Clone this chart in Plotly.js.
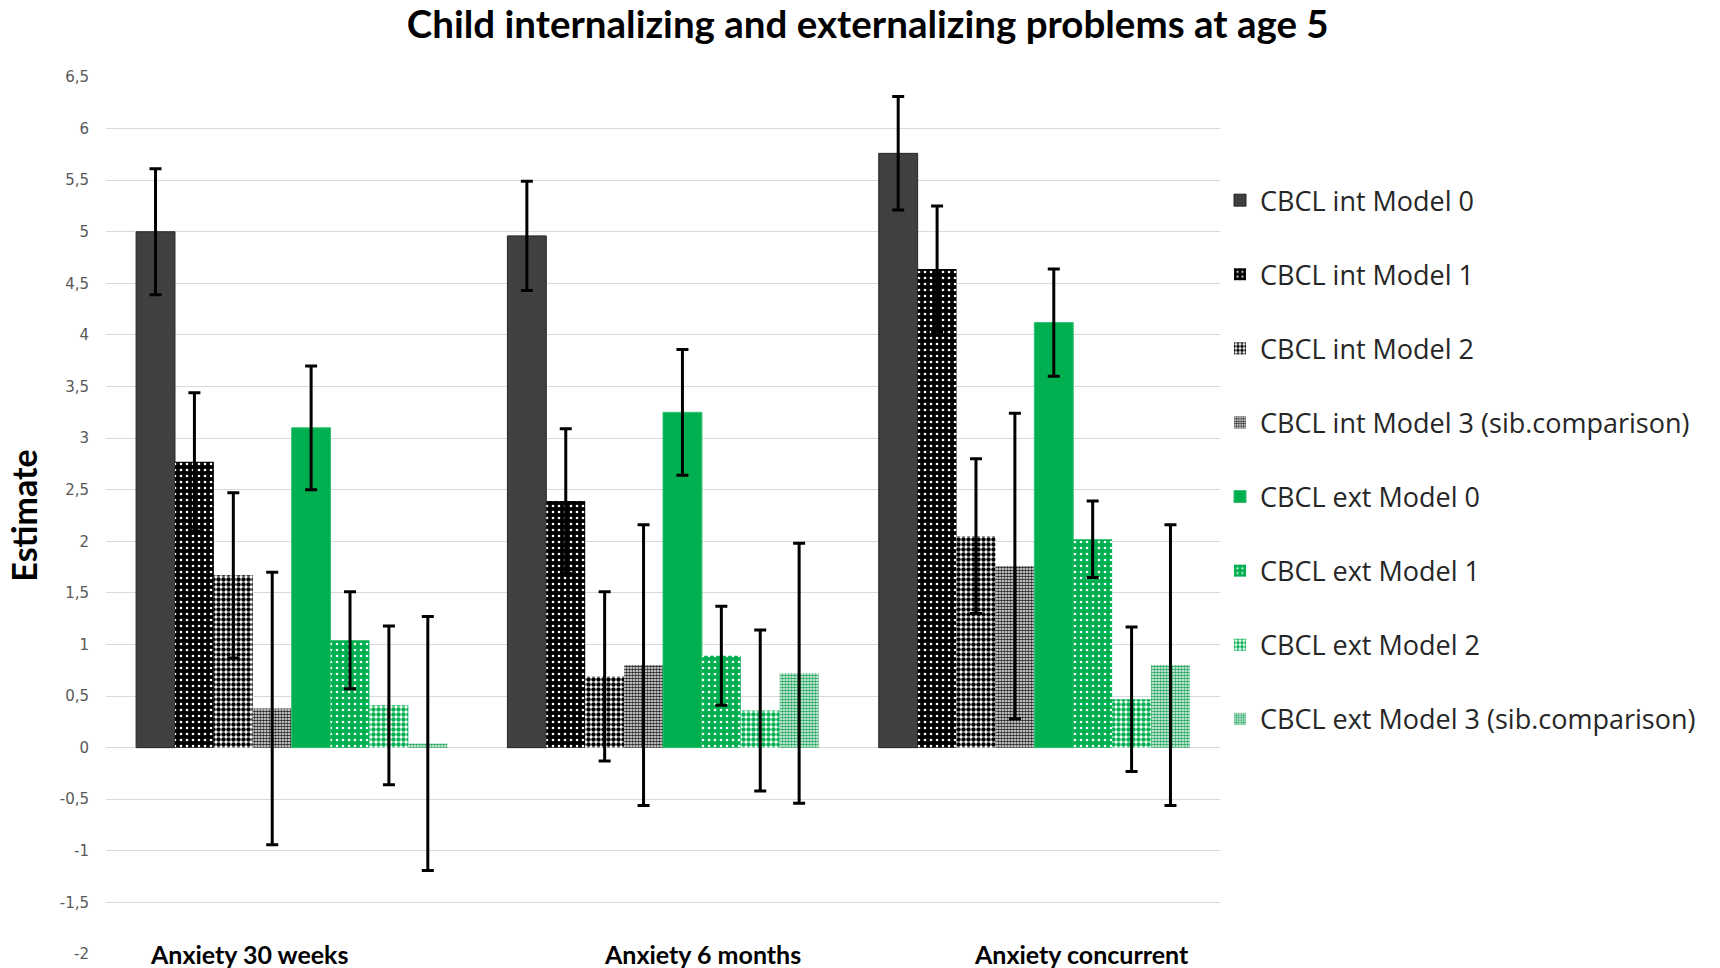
<!DOCTYPE html>
<html>
<head>
<meta charset="utf-8">
<script src="https://cdn.plot.ly/plotly-3.0.1.min.js"></script>
<style>html,body{margin:0;padding:0;background:#fff;}#chart{width:1720px;height:968px;}</style>
</head>
<body>
<div id="chart"></div>
<script>
const categories = ['Anxiety 30 weeks', 'Anxiety 6 months', 'Anxiety concurrent'];
const seriesNames = [
  'CBCL int Model 0', 'CBCL int Model 1', 'CBCL int Model 2', 'CBCL int Model 3 (sib.comparison)',
  'CBCL ext Model 0', 'CBCL ext Model 1', 'CBCL ext Model 2', 'CBCL ext Model 3 (sib.comparison)'
];
const intModel0 = [5.00, 4.96, 5.76];
const intModel1 = [2.77, 2.39, 4.64];
const intModel2 = [1.67, 0.69, 2.05];
const intModel3 = [0.38, 0.80, 1.76];
const extModel0 = [3.10, 3.25, 4.12];
const extModel1 = [1.04, 0.89, 2.02];
const extModel2 = [0.41, 0.36, 0.47];
const extModel3 = [0.04, 0.72, 0.80];
const errIntModel0 = [0.61, 0.53, 0.55];
const errIntModel1 = [0.67, 0.70, 0.61];
const errIntModel2 = [0.80, 0.82, 0.75];
const errIntModel3 = [1.32, 1.36, 1.48];
const errExtModel0 = [0.60, 0.61, 0.52];
const errExtModel1 = [0.47, 0.48, 0.37];
const errExtModel2 = [0.77, 0.78, 0.70];
const errExtModel3 = [1.23, 1.26, 1.36];
const tickValues = [-2, -1.5, -1, -0.5, 0, 0.5, 1, 1.5, 2, 2.5, 3, 3.5, 4, 4.5, 5, 5.5, 6, 6.5];
const tickLabels = ['-2', '-1,5', '-1', '-0,5', '0', '0,5', '1', '1,5', '2', '2,5', '3', '3,5', '4', '4,5', '5', '5,5', '6', '6,5'];

const values = [intModel0, intModel1, intModel2, intModel3, extModel0, extModel1, extModel2, extModel3];
const errors = [errIntModel0, errIntModel1, errIntModel2, errIntModel3, errExtModel0, errExtModel1, errExtModel2, errExtModel3];

const GREY = '#404040';
const GREEN = '#00b050';
const styles = [
  {color: GREY, line: {color: '#262626', width: 1}},
  {color: '#000', pattern: {shape: '.', bgcolor: '#000000', fgcolor: '#ffffff', size: 6, solidity: 0.15, fillmode: 'replace'}},
  {color: '#000', pattern: {shape: '.', bgcolor: '#ffffff', fgcolor: '#000000', size: 5, solidity: 0.62, fillmode: 'replace'}},
  {color: '#000', pattern: {shape: '.', bgcolor: '#ffffff', fgcolor: '#2a2a2a', size: 3, solidity: 0.62, fillmode: 'replace'}},
  {color: GREEN, line: {color: '#33c070', width: 1}},
  {color: GREEN, pattern: {shape: '.', bgcolor: GREEN, fgcolor: '#ffffff', size: 6, solidity: 0.15, fillmode: 'replace'}},
  {color: GREEN, pattern: {shape: '.', bgcolor: '#ffffff', fgcolor: GREEN, size: 5, solidity: 0.62, fillmode: 'replace'}},
  {color: GREEN, pattern: {shape: '.', bgcolor: '#ffffff', fgcolor: '#27a862', size: 3, solidity: 0.62, fillmode: 'replace'}}
];

const traces = seriesNames.map((name, i) => {
  const m = {color: styles[i].color, line: styles[i].line || {width: 0}};
  if (styles[i].pattern) m.pattern = styles[i].pattern;
  return {
    type: 'bar',
    name: name,
    x: categories,
    y: values[i],
    marker: m,
    legendgroup: 'g' + i,
    error_y: {type: 'data', array: errors[i], visible: true, color: '#000000', thickness: 3, width: 6},
    hoverinfo: 'skip'
  };
});

const labelOffsets = [-0.115, 0.106, 0.127];
const annotations = categories.map((c, i) => ({
  text: '<b>' + c + '</b>',
  xref: 'x', yref: 'paper',
  x: i + labelOffsets[i], y: 0,
  xanchor: 'center', yanchor: 'middle',
  showarrow: false,
  font: {family: 'Lato, sans-serif', size: 25, color: '#000'}
}));

const layout = {
  width: 1720, height: 968,
  paper_bgcolor: '#ffffff', plot_bgcolor: '#ffffff',
  margin: {l: 106, r: 500, t: 77, b: 14},
  title: {
    text: '<b>Child internalizing and externalizing problems at age 5</b>',
    font: {family: 'Lato, sans-serif', size: 38.5, color: '#000'},
    x: 0.5045, xref: 'container', xanchor: 'center',
    y: 0.975, yref: 'container', yanchor: 'middle'
  },
  barmode: 'group',
  bargap: 0.162,
  bargroupgap: 0,
  showlegend: true,
  legend: {
    x: 1.0, xanchor: 'left', xref: 'paper',
    y: 0.887, yanchor: 'top', yref: 'paper',
    font: {family: 'Open Sans, sans-serif', size: 27, color: '#262626'},
    tracegroupgap: 36,
    traceorder: 'grouped',
    bgcolor: 'rgba(0,0,0,0)'
  },
  xaxis: {
    type: 'category',
    range: [-0.5, 2.5],
    showticklabels: false,
    showgrid: false,
    zeroline: false,
    showline: false,
    ticks: ''
  },
  yaxis: {
    range: [-2, 6.5],
    tickvals: tickValues,
    ticktext: tickLabels,
    showgrid: true,
    gridcolor: '#d9d9d9',
    gridwidth: 1,
    zeroline: false,
    showline: false,
    ticks: '',
    ticklabelstandoff: 16,
    tickfont: {family: 'DejaVu Sans, sans-serif', size: 15, color: '#595959'},
    title: {text: '<b>Estimate</b>', font: {family: 'Lato, sans-serif', size: 34, color: '#000'}, standoff: 11}
  },
  annotations: annotations
};

Plotly.newPlot('chart', traces, layout, {displayModeBar: false, staticPlot: true});
</script>
</body>
</html>
